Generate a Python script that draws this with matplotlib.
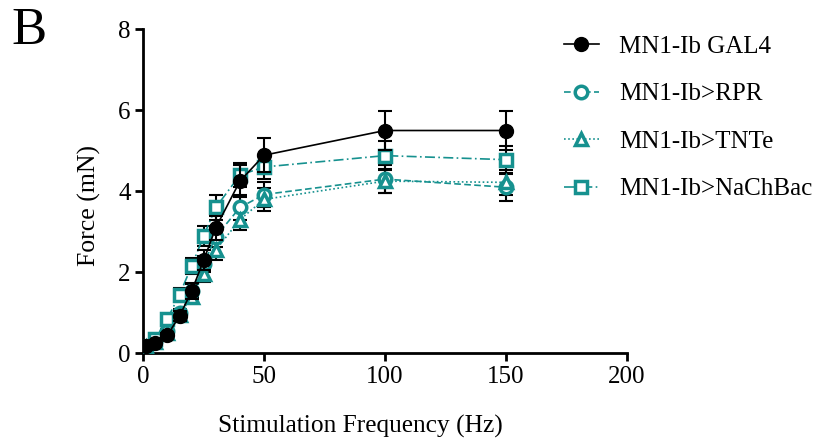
import matplotlib.pyplot as plt
import numpy as np

# Daten
freq = [1, 5, 10, 15, 20, 25, 30, 40, 50, 100, 150]

gal4_mean = [0.18, 0.26, 0.45, 0.92, 1.53, 2.30, 3.10, 4.25, 4.89, 5.50, 5.50]
gal4_sem = [0.03, 0.04, 0.06, 0.12, 0.20, 0.25, 0.30, 0.40, 0.42, 0.48, 0.48]

rpr_mean = [0.15, 0.30, 0.55, 1.00, 1.55, 2.20, 2.88, 3.60, 3.92, 4.30, 4.10]
rpr_sem = [0.03, 0.04, 0.06, 0.10, 0.15, 0.20, 0.25, 0.30, 0.30, 0.35, 0.33]

tnte_mean = [0.15, 0.28, 0.50, 0.95, 1.40, 1.95, 2.55, 3.30, 3.80, 4.25, 4.22]
tnte_sem = [0.03, 0.04, 0.06, 0.10, 0.15, 0.20, 0.25, 0.25, 0.28, 0.30, 0.30]

nachbac_mean = [0.15, 0.35, 0.85, 1.45, 2.15, 2.90, 3.60, 4.40, 4.60, 4.88, 4.78]
nachbac_sem = [0.03, 0.05, 0.10, 0.15, 0.20, 0.25, 0.30, 0.30, 0.30, 0.35, 0.33]

labels = ['MN1-Ib GAL4', 'MN1-Ib>RPR', 'MN1-Ib>TNTe', 'MN1-Ib>NaChBac']

teal = '#16918f'
plt.rcParams['font.family'] = ['Liberation Serif', 'DejaVu Serif']

fig = plt.figure(figsize=(8.22, 4.43), dpi=100)
ax = fig.add_axes([0.1743, 0.2025, 0.588, 0.7315])

series = [
    (rpr_mean, rpr_sem, 'o', (0, (4, 2)), labels[1]),
    (tnte_mean, tnte_sem, '^', (0, (1, 1.5)), labels[2]),
    (nachbac_mean, nachbac_sem, 's', (0, (6, 2, 1, 2)), labels[3]),
]

handles = {}
for mean, sem, mk, ls, lab in series:
    ax.errorbar(freq, mean, yerr=sem, fmt='none', ecolor='black', elinewidth=1.5,
                capsize=5, capthick=1.5, zorder=2)
    h, = ax.plot(freq, mean, color=teal, linestyle=ls, linewidth=1.2, marker=mk,
                 markersize=9, markerfacecolor='white', markeredgecolor=teal,
                 markeredgewidth=2.5, zorder=3, label=lab)
    handles[lab] = h

ax.errorbar(freq, gal4_mean, yerr=gal4_sem, fmt='none', ecolor='black', elinewidth=1.5,
            capsize=5, capthick=1.5, zorder=4)
h, = ax.plot(freq, gal4_mean, color='black', linestyle='-', linewidth=1.2, marker='o',
             markersize=10, zorder=5, label=labels[0])
handles[labels[0]] = h

ax.set_xlim(0, 200)
ax.set_ylim(0, 8)
ax.set_xticks([0, 50, 100, 150, 200])
ax.set_yticks([0, 2, 4, 6, 8])
ax.spines['top'].set_visible(False)
ax.spines['right'].set_visible(False)
ax.spines['left'].set_linewidth(2)
ax.spines['bottom'].set_linewidth(2)
ax.tick_params(width=2, length=6, labelsize=18, pad=3)
for s in ['left', 'bottom']:
    ax.spines[s].set_clip_on(False)

ax.set_xlabel('Stimulation Frequency (Hz)', fontsize=18.3, va='center')
ax.xaxis.set_label_coords(0.45, -0.226)
ax.set_ylabel('Force (mN)', fontsize=18.5, va='center')
ax.yaxis.set_label_coords(-0.112, 0.456)

fig.text(0.014, 0.985, 'B', fontsize=38, va='top')

fig.legend([handles[l] for l in labels], labels, loc='upper left',
           bbox_to_anchor=(0.686, 0.92), frameon=False, fontsize=18,
           handlelength=1.4, labelspacing=1.0, handletextpad=0.8, borderaxespad=0.0,
           borderpad=0.0)

plt.savefig('out.png', dpi=100)
